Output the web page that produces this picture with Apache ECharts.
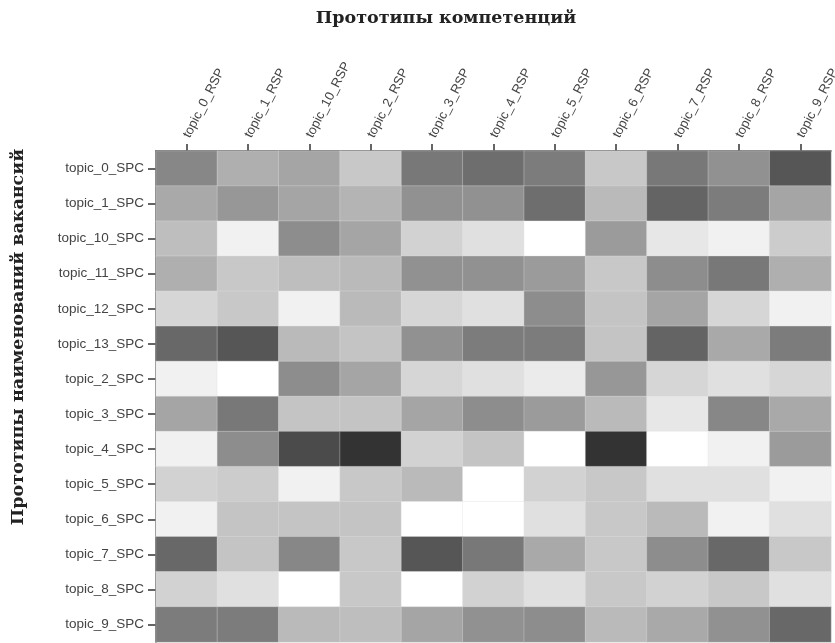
<!DOCTYPE html>
<html>
<head>
<meta charset="utf-8">
<script src="https://cdn.jsdelivr.net/npm/echarts@6/dist/echarts.min.js"></script>
<style>html,body{margin:0;padding:0;background:#fff;}#c{width:835px;height:643px;}</style>
</head>
<body>
<div id="c"></div>
<script>
const xCategories = ['topic_0_RSP','topic_1_RSP','topic_10_RSP','topic_2_RSP','topic_3_RSP','topic_4_RSP','topic_5_RSP','topic_6_RSP','topic_7_RSP','topic_8_RSP','topic_9_RSP'];
const yCategories = ['topic_0_SPC','topic_1_SPC','topic_10_SPC','topic_11_SPC','topic_12_SPC','topic_13_SPC','topic_2_SPC','topic_3_SPC','topic_4_SPC','topic_5_SPC','topic_6_SPC','topic_7_SPC','topic_8_SPC','topic_9_SPC'];
// darkness values (0 = white, 100 = darkest), one row per y category
const row_topic_0_SPC  = [59,39,44,27,66,71,64,27,66,54,83];
const row_topic_1_SPC  = [42,51,44,37,54,54,71,34,76,64,44];
const row_topic_10_SPC = [32,7,56,44,22,15,0,49,12,7,25];
const row_topic_11_SPC = [39,27,32,34,54,54,49,27,56,66,39];
const row_topic_12_SPC = [20,27,7,34,20,15,56,29,44,20,7];
const row_topic_13_SPC = [74,83,34,29,54,64,64,29,76,42,64];
const row_topic_2_SPC  = [7,0,56,44,20,15,10,51,20,15,20];
const row_topic_3_SPC  = [44,66,29,29,44,56,49,34,12,59,42];
const row_topic_4_SPC  = [7,56,88,100,22,29,0,100,0,7,49];
const row_topic_5_SPC  = [22,25,7,27,34,0,22,27,15,15,7];
const row_topic_6_SPC  = [7,29,29,29,0,0,15,27,34,7,15];
const row_topic_7_SPC  = [74,29,59,27,83,66,42,27,56,74,27];
const row_topic_8_SPC  = [22,15,0,27,0,22,15,27,22,27,15];
const row_topic_9_SPC  = [64,64,34,32,44,54,56,34,42,54,74];
const rows = [row_topic_0_SPC,row_topic_1_SPC,row_topic_10_SPC,row_topic_11_SPC,row_topic_12_SPC,row_topic_13_SPC,row_topic_2_SPC,row_topic_3_SPC,row_topic_4_SPC,row_topic_5_SPC,row_topic_6_SPC,row_topic_7_SPC,row_topic_8_SPC,row_topic_9_SPC];
const titleTop = 'Прототипы компетенций';
const titleLeft = 'Прототипы наименований вакансий';

const data = [];
rows.forEach((r, yi) => r.forEach((v, xi) => data.push([xi, yi, v])));

const chart = echarts.init(document.getElementById('c'));
chart.setOption({
  animation: false,
  backgroundColor: '#fff',
  grid: { left: 156, right: 4, top: 151, bottom: 1, outerBoundsMode: 'none', containLabel: false },
  xAxis: {
    type: 'category', position: 'top', data: xCategories,
    axisLine: { show: true, lineStyle: { color: '#333', width: 1.5 } },
    axisTick: { show: true, alignWithLabel: true, length: 7, lineStyle: { color: '#333', width: 1.5 } },
    axisLabel: { rotate: -63, color: '#444', fontSize: 13, fontFamily: 'Liberation Sans', margin: 14, interval: 0 },
    splitLine: { show: false }
  },
  yAxis: {
    type: 'category', inverse: true, data: yCategories,
    axisLine: { show: true, lineStyle: { color: '#333', width: 1.5 } },
    axisTick: { show: true, alignWithLabel: true, length: 8, lineStyle: { color: '#333', width: 1.5 } },
    axisLabel: { color: '#444', fontSize: 13.5, fontFamily: 'Liberation Sans', margin: 12, interval: 0 },
    splitLine: { show: false }
  },
  visualMap: { show: false, min: 0, max: 100, inRange: { color: ['#ffffff', '#333333'] } },
  series: [{
    type: 'heatmap', data: data,
    itemStyle: { borderColor: 'rgba(225,225,225,0.7)', borderWidth: 0.5 }
  }],
  graphic: [
    { type: 'text', x: 446, y: 18, style: { text: titleTop, font: 'bold 17.5px "DejaVu Serif"', fill: '#222', align: 'center', verticalAlign: 'middle' } },
    { type: 'text', x: 18, y: 337, rotation: Math.PI / 2, style: { text: titleLeft, font: 'bold 17.5px "DejaVu Serif"', fill: '#222', align: 'center', verticalAlign: 'middle' } }
  ]
});
</script>
</body>
</html>
